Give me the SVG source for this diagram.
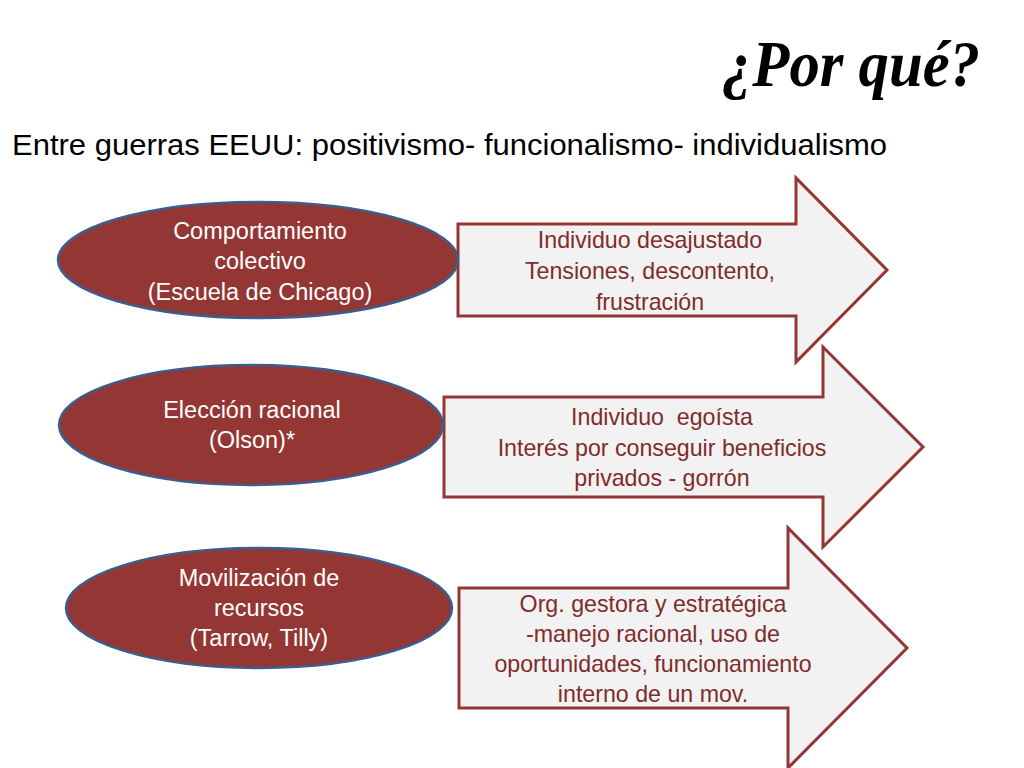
<svg xmlns="http://www.w3.org/2000/svg" width="1024" height="768" viewBox="0 0 1024 768">
<style>
.ell{fill:#943634;stroke:#3B5E8C;stroke-width:2.5}
.arr{fill:#F2F2F2;stroke:#943634;stroke-width:3;stroke-linejoin:miter}
.et{font-family:"Liberation Sans",Arial,sans-serif;font-size:23.5px;fill:#FFFFFF;text-anchor:middle}
.at{font-family:"Liberation Sans",Arial,sans-serif;font-size:23.2px;fill:#7F2C2A;text-anchor:middle}
.hd{font-family:"Liberation Sans",Arial,sans-serif;font-size:30px;fill:#000000}
.ti{font-family:"Liberation Serif","DejaVu Serif",serif;font-style:italic;font-weight:bold;font-size:66px;fill:#000000}
</style>
<rect width="1024" height="768" fill="#FFFFFF"/>
<text class="ti" x="722" y="86" textLength="258" lengthAdjust="spacingAndGlyphs">¿Por qué?</text>
<text class="hd" x="12" y="155" textLength="875" lengthAdjust="spacingAndGlyphs">Entre guerras EEUU: positivismo- funcionalismo- individualismo</text>
<g id="connectors">
<g id="arrow1">
<path class="arr" d="M458,224 L796,224 L796,178 L887,270 L796,362 L796,316 L458,316 Z"/>
<text class="at" x="650" y="248">Individuo desajustado</text>
<text class="at" x="650" y="279">Tensiones, descontento,</text>
<text class="at" x="650" y="310">frustración</text>
</g>
<g id="arrow2">
<path class="arr" d="M444,397 L823,397 L823,347 L923,447 L823,547 L823,497 L444,497 Z"/>
<text class="at" x="662" y="425" xml:space="preserve">Individuo  egoísta</text>
<text class="at" x="662" y="456">Interés por conseguir beneficios</text>
<text class="at" x="662" y="486">privados - gorrón</text>
</g>
<g id="arrow3">
<path class="arr" d="M459,588 L788,588 L788,528 L907,648 L788,768 L788,708 L459,708 Z"/>
<text class="at" x="653" y="612">Org. gestora y estratégica</text>
<text class="at" x="653" y="642">-manejo racional, uso de</text>
<text class="at" x="653" y="672">oportunidades, funcionamiento</text>
<text class="at" x="653" y="702">interno de un mov.</text>
</g>
</g>
<g id="node1">
<ellipse class="ell" cx="258" cy="260" rx="200" ry="58"/>
<text class="et" x="260" y="239">Comportamiento</text>
<text class="et" x="260" y="269">colectivo</text>
<text class="et" x="260" y="300">(Escuela de Chicago)</text>
</g>
<g id="node2">
<ellipse class="ell" cx="251" cy="425" rx="192" ry="60"/>
<text class="et" x="252" y="418">Elección racional</text>
<text class="et" x="252" y="448">(Olson)*</text>
</g>
<g id="node3">
<ellipse class="ell" cx="259" cy="608" rx="193" ry="60"/>
<text class="et" x="259" y="586">Movilización de</text>
<text class="et" x="259" y="616">recursos</text>
<text class="et" x="259" y="646">(Tarrow, Tilly)</text>
</g>
</svg>
